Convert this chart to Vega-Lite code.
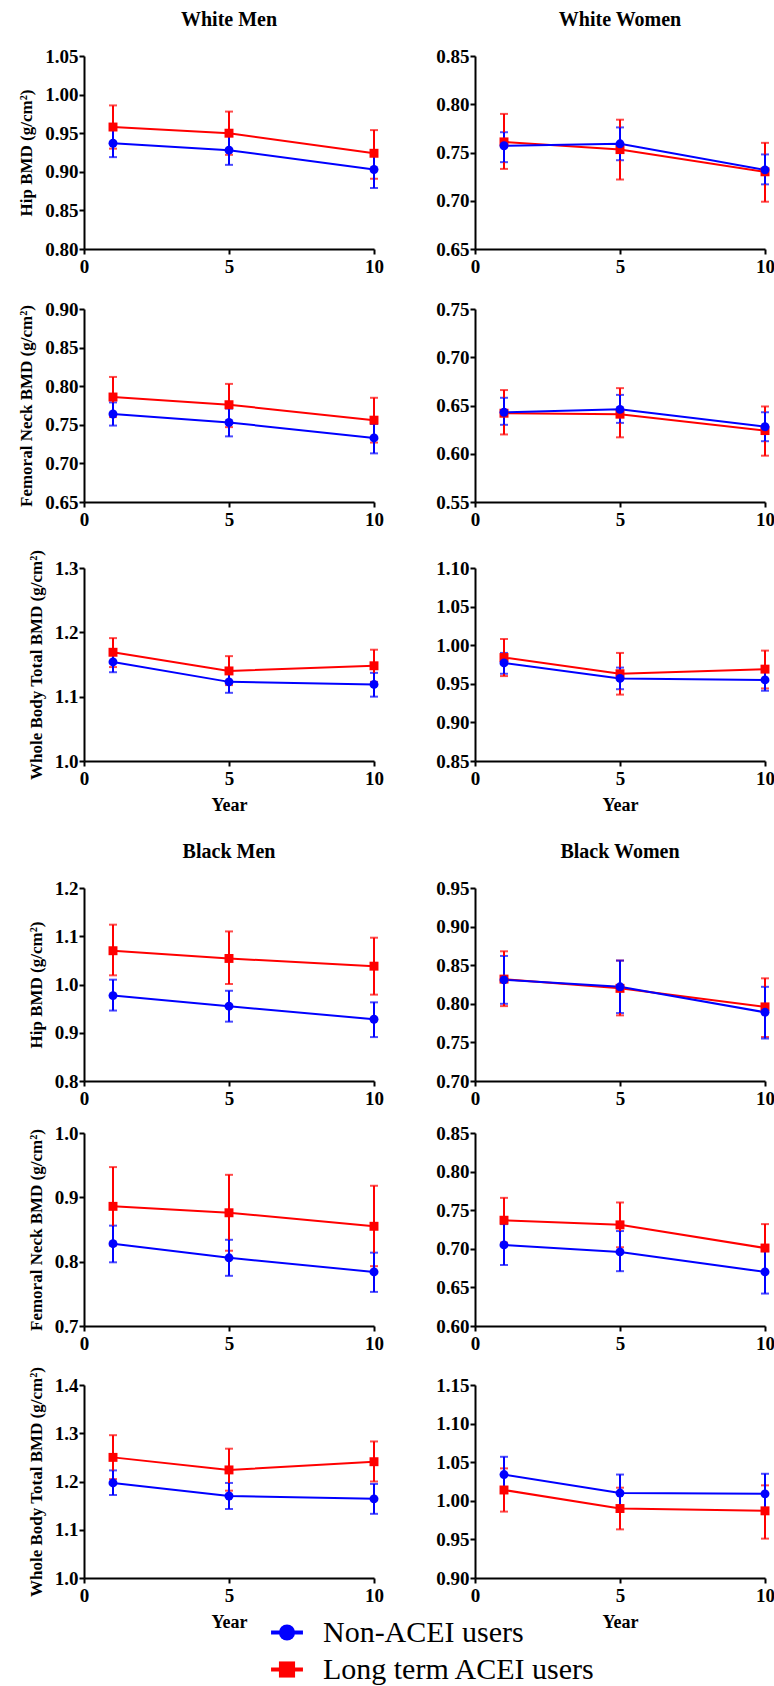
{
"$schema": "https://vega.github.io/schema/vega-lite/v6.json",
"padding": {"left": 17, "top": 10, "right": 0, "bottom": 0},
"background": "white",
"data": {"values": [
{"panel":"WM Hip","group":"Long term ACEI users","year":1,"mean":0.958,"lo":0.930,"hi":0.986},
{"panel":"WM Hip","group":"Long term ACEI users","year":5,"mean":0.950,"lo":0.922,"hi":0.978},
{"panel":"WM Hip","group":"Long term ACEI users","year":10,"mean":0.924,"lo":0.891,"hi":0.954},
{"panel":"WM Hip","group":"Non-ACEI users","year":1,"mean":0.937,"lo":0.919,"hi":0.956},
{"panel":"WM Hip","group":"Non-ACEI users","year":5,"mean":0.928,"lo":0.909,"hi":0.949},
{"panel":"WM Hip","group":"Non-ACEI users","year":10,"mean":0.903,"lo":0.879,"hi":0.926},
{"panel":"WW Hip","group":"Long term ACEI users","year":1,"mean":0.761,"lo":0.733,"hi":0.790},
{"panel":"WW Hip","group":"Long term ACEI users","year":5,"mean":0.753,"lo":0.722,"hi":0.784},
{"panel":"WW Hip","group":"Long term ACEI users","year":10,"mean":0.730,"lo":0.699,"hi":0.760},
{"panel":"WW Hip","group":"Non-ACEI users","year":1,"mean":0.757,"lo":0.740,"hi":0.771},
{"panel":"WW Hip","group":"Non-ACEI users","year":5,"mean":0.759,"lo":0.742,"hi":0.776},
{"panel":"WW Hip","group":"Non-ACEI users","year":10,"mean":0.732,"lo":0.717,"hi":0.748},
{"panel":"WM FN","group":"Long term ACEI users","year":1,"mean":0.786,"lo":0.760,"hi":0.812},
{"panel":"WM FN","group":"Long term ACEI users","year":5,"mean":0.776,"lo":0.747,"hi":0.803},
{"panel":"WM FN","group":"Long term ACEI users","year":10,"mean":0.756,"lo":0.727,"hi":0.785},
{"panel":"WM FN","group":"Non-ACEI users","year":1,"mean":0.764,"lo":0.749,"hi":0.779},
{"panel":"WM FN","group":"Non-ACEI users","year":5,"mean":0.753,"lo":0.735,"hi":0.771},
{"panel":"WM FN","group":"Non-ACEI users","year":10,"mean":0.733,"lo":0.713,"hi":0.751},
{"panel":"WW FN","group":"Long term ACEI users","year":1,"mean":0.642,"lo":0.620,"hi":0.666},
{"panel":"WW FN","group":"Long term ACEI users","year":5,"mean":0.641,"lo":0.617,"hi":0.668},
{"panel":"WW FN","group":"Long term ACEI users","year":10,"mean":0.624,"lo":0.598,"hi":0.649},
{"panel":"WW FN","group":"Non-ACEI users","year":1,"mean":0.643,"lo":0.630,"hi":0.658},
{"panel":"WW FN","group":"Non-ACEI users","year":5,"mean":0.646,"lo":0.632,"hi":0.661},
{"panel":"WW FN","group":"Non-ACEI users","year":10,"mean":0.628,"lo":0.613,"hi":0.643},
{"panel":"WM WB","group":"Long term ACEI users","year":1,"mean":1.169,"lo":1.146,"hi":1.191},
{"panel":"WM WB","group":"Long term ACEI users","year":5,"mean":1.140,"lo":1.118,"hi":1.163},
{"panel":"WM WB","group":"Long term ACEI users","year":10,"mean":1.148,"lo":1.123,"hi":1.173},
{"panel":"WM WB","group":"Non-ACEI users","year":1,"mean":1.154,"lo":1.138,"hi":1.167},
{"panel":"WM WB","group":"Non-ACEI users","year":5,"mean":1.123,"lo":1.106,"hi":1.137},
{"panel":"WM WB","group":"Non-ACEI users","year":10,"mean":1.119,"lo":1.100,"hi":1.137},
{"panel":"WW WB","group":"Long term ACEI users","year":1,"mean":0.984,"lo":0.960,"hi":1.008},
{"panel":"WW WB","group":"Long term ACEI users","year":5,"mean":0.963,"lo":0.936,"hi":0.990},
{"panel":"WW WB","group":"Long term ACEI users","year":10,"mean":0.969,"lo":0.944,"hi":0.993},
{"panel":"WW WB","group":"Non-ACEI users","year":1,"mean":0.977,"lo":0.963,"hi":0.990},
{"panel":"WW WB","group":"Non-ACEI users","year":5,"mean":0.957,"lo":0.943,"hi":0.971},
{"panel":"WW WB","group":"Non-ACEI users","year":10,"mean":0.955,"lo":0.941,"hi":0.968},
{"panel":"BM Hip","group":"Long term ACEI users","year":1,"mean":1.070,"lo":1.019,"hi":1.124},
{"panel":"BM Hip","group":"Long term ACEI users","year":5,"mean":1.054,"lo":1.001,"hi":1.110},
{"panel":"BM Hip","group":"Long term ACEI users","year":10,"mean":1.038,"lo":0.979,"hi":1.097},
{"panel":"BM Hip","group":"Non-ACEI users","year":1,"mean":0.977,"lo":0.946,"hi":1.010},
{"panel":"BM Hip","group":"Non-ACEI users","year":5,"mean":0.955,"lo":0.923,"hi":0.987},
{"panel":"BM Hip","group":"Non-ACEI users","year":10,"mean":0.928,"lo":0.891,"hi":0.963},
{"panel":"BW Hip","group":"Long term ACEI users","year":1,"mean":0.832,"lo":0.797,"hi":0.868},
{"panel":"BW Hip","group":"Long term ACEI users","year":5,"mean":0.820,"lo":0.785,"hi":0.856},
{"panel":"BW Hip","group":"Long term ACEI users","year":10,"mean":0.796,"lo":0.757,"hi":0.833},
{"panel":"BW Hip","group":"Non-ACEI users","year":1,"mean":0.831,"lo":0.800,"hi":0.862},
{"panel":"BW Hip","group":"Non-ACEI users","year":5,"mean":0.822,"lo":0.788,"hi":0.856},
{"panel":"BW Hip","group":"Non-ACEI users","year":10,"mean":0.789,"lo":0.755,"hi":0.822},
{"panel":"BM FN","group":"Long term ACEI users","year":1,"mean":0.886,"lo":0.825,"hi":0.947},
{"panel":"BM FN","group":"Long term ACEI users","year":5,"mean":0.876,"lo":0.817,"hi":0.935},
{"panel":"BM FN","group":"Long term ACEI users","year":10,"mean":0.855,"lo":0.793,"hi":0.918},
{"panel":"BM FN","group":"Non-ACEI users","year":1,"mean":0.828,"lo":0.799,"hi":0.856},
{"panel":"BM FN","group":"Non-ACEI users","year":5,"mean":0.806,"lo":0.778,"hi":0.834},
{"panel":"BM FN","group":"Non-ACEI users","year":10,"mean":0.784,"lo":0.753,"hi":0.814},
{"panel":"BW FN","group":"Long term ACEI users","year":1,"mean":0.737,"lo":0.708,"hi":0.766},
{"panel":"BW FN","group":"Long term ACEI users","year":5,"mean":0.731,"lo":0.702,"hi":0.760},
{"panel":"BW FN","group":"Long term ACEI users","year":10,"mean":0.701,"lo":0.670,"hi":0.732},
{"panel":"BW FN","group":"Non-ACEI users","year":1,"mean":0.705,"lo":0.679,"hi":0.732},
{"panel":"BW FN","group":"Non-ACEI users","year":5,"mean":0.696,"lo":0.671,"hi":0.723},
{"panel":"BW FN","group":"Non-ACEI users","year":10,"mean":0.670,"lo":0.642,"hi":0.697},
{"panel":"BM WB","group":"Long term ACEI users","year":1,"mean":1.250,"lo":1.205,"hi":1.296},
{"panel":"BM WB","group":"Long term ACEI users","year":5,"mean":1.224,"lo":1.181,"hi":1.268},
{"panel":"BM WB","group":"Long term ACEI users","year":10,"mean":1.241,"lo":1.200,"hi":1.283},
{"panel":"BM WB","group":"Non-ACEI users","year":1,"mean":1.197,"lo":1.172,"hi":1.223},
{"panel":"BM WB","group":"Non-ACEI users","year":5,"mean":1.170,"lo":1.143,"hi":1.197},
{"panel":"BM WB","group":"Non-ACEI users","year":10,"mean":1.164,"lo":1.133,"hi":1.195},
{"panel":"BW WB","group":"Long term ACEI users","year":1,"mean":1.014,"lo":0.986,"hi":1.042},
{"panel":"BW WB","group":"Long term ACEI users","year":5,"mean":0.990,"lo":0.963,"hi":1.017},
{"panel":"BW WB","group":"Long term ACEI users","year":10,"mean":0.987,"lo":0.951,"hi":1.020},
{"panel":"BW WB","group":"Non-ACEI users","year":1,"mean":1.034,"lo":1.012,"hi":1.057},
{"panel":"BW WB","group":"Non-ACEI users","year":5,"mean":1.010,"lo":0.987,"hi":1.034},
{"panel":"BW WB","group":"Non-ACEI users","year":10,"mean":1.009,"lo":0.983,"hi":1.035}
]},
"columns": 2,
"spacing": {"row": 0, "column": 101},
"bounds": "flush",
"concat": [
  {"width":290,"height":193,"title":"White Men","transform":[{"filter":{"field":"panel","equal":"WM Hip"}}],
   "encoding":{"x":{"field":"year","type":"quantitative","scale":{"domain":[0,10],"nice":false},"axis":{"values":[0,5,10],"title":null}},
    "color":{"field":"group","type":"nominal","scale":{"domain":["Non-ACEI users","Long term ACEI users"],"range":["#0000ff","#ff0000"]},"legend":null},
    "y":{"field":"mean","type":"quantitative","scale":{"domain":[0.8,1.05],"zero":false,"nice":false},"axis":{"values":[0.8,0.85,0.9,0.95,1.0,1.05],"format":".2f","title":"Hip BMD (g/cm²)"}}},
   "layer":[
    {"mark":{"type":"errorbar","ticks":true,"size":8,"thickness":2},"encoding":{"y":{"field":"lo","type":"quantitative","scale":{"domain":[0.8,1.05],"zero":false,"nice":false},"axis":{"values":[0.8,0.85,0.9,0.95,1.0,1.05],"format":".2f","title":"Hip BMD (g/cm²)"}},"y2":{"field":"hi"}}},
    {"mark":{"type":"line","strokeWidth":2},"encoding":{}},
    {"mark":{"type":"point","filled":true,"opacity":1,"size":80},"encoding":{"shape":{"field":"group","type":"nominal","scale":{"domain":["Non-ACEI users","Long term ACEI users"],"range":["circle","square"]},"legend":null}}}
   ]},
  {"width":290,"height":193,"title":"White Women","transform":[{"filter":{"field":"panel","equal":"WW Hip"}}],
   "encoding":{"x":{"field":"year","type":"quantitative","scale":{"domain":[0,10],"nice":false},"axis":{"values":[0,5,10],"title":null}},
    "color":{"field":"group","type":"nominal","scale":{"domain":["Non-ACEI users","Long term ACEI users"],"range":["#0000ff","#ff0000"]},"legend":null},
    "y":{"field":"mean","type":"quantitative","scale":{"domain":[0.65,0.85],"zero":false,"nice":false},"axis":{"values":[0.65,0.7,0.75,0.8,0.85],"format":".2f","title":null}}},
   "layer":[
    {"mark":{"type":"errorbar","ticks":true,"size":8,"thickness":2},"encoding":{"y":{"field":"lo","type":"quantitative","scale":{"domain":[0.65,0.85],"zero":false,"nice":false},"axis":{"values":[0.65,0.7,0.75,0.8,0.85],"format":".2f","title":null}},"y2":{"field":"hi"}}},
    {"mark":{"type":"line","strokeWidth":2},"encoding":{}},
    {"mark":{"type":"point","filled":true,"opacity":1,"size":80},"encoding":{"shape":{"field":"group","type":"nominal","scale":{"domain":["Non-ACEI users","Long term ACEI users"],"range":["circle","square"]},"legend":null}}}
   ]},
  {"width":290,"height":60,"data":{"values":[]},"mark":"point","encoding":{}},
  {"width":290,"height":60,"data":{"values":[]},"mark":"point","encoding":{}},
  {"width":290,"height":193,"transform":[{"filter":{"field":"panel","equal":"WM FN"}}],
   "encoding":{"x":{"field":"year","type":"quantitative","scale":{"domain":[0,10],"nice":false},"axis":{"values":[0,5,10],"title":null}},
    "color":{"field":"group","type":"nominal","scale":{"domain":["Non-ACEI users","Long term ACEI users"],"range":["#0000ff","#ff0000"]},"legend":null},
    "y":{"field":"mean","type":"quantitative","scale":{"domain":[0.65,0.9],"zero":false,"nice":false},"axis":{"values":[0.65,0.7,0.75,0.8,0.85,0.9],"format":".2f","title":"Femoral Neck BMD (g/cm²)"}}},
   "layer":[
    {"mark":{"type":"errorbar","ticks":true,"size":8,"thickness":2},"encoding":{"y":{"field":"lo","type":"quantitative","scale":{"domain":[0.65,0.9],"zero":false,"nice":false},"axis":{"values":[0.65,0.7,0.75,0.8,0.85,0.9],"format":".2f","title":"Femoral Neck BMD (g/cm²)"}},"y2":{"field":"hi"}}},
    {"mark":{"type":"line","strokeWidth":2},"encoding":{}},
    {"mark":{"type":"point","filled":true,"opacity":1,"size":80},"encoding":{"shape":{"field":"group","type":"nominal","scale":{"domain":["Non-ACEI users","Long term ACEI users"],"range":["circle","square"]},"legend":null}}}
   ]},
  {"width":290,"height":193,"transform":[{"filter":{"field":"panel","equal":"WW FN"}}],
   "encoding":{"x":{"field":"year","type":"quantitative","scale":{"domain":[0,10],"nice":false},"axis":{"values":[0,5,10],"title":null}},
    "color":{"field":"group","type":"nominal","scale":{"domain":["Non-ACEI users","Long term ACEI users"],"range":["#0000ff","#ff0000"]},"legend":null},
    "y":{"field":"mean","type":"quantitative","scale":{"domain":[0.55,0.75],"zero":false,"nice":false},"axis":{"values":[0.55,0.6,0.65,0.7,0.75],"format":".2f","title":null}}},
   "layer":[
    {"mark":{"type":"errorbar","ticks":true,"size":8,"thickness":2},"encoding":{"y":{"field":"lo","type":"quantitative","scale":{"domain":[0.55,0.75],"zero":false,"nice":false},"axis":{"values":[0.55,0.6,0.65,0.7,0.75],"format":".2f","title":null}},"y2":{"field":"hi"}}},
    {"mark":{"type":"line","strokeWidth":2},"encoding":{}},
    {"mark":{"type":"point","filled":true,"opacity":1,"size":80},"encoding":{"shape":{"field":"group","type":"nominal","scale":{"domain":["Non-ACEI users","Long term ACEI users"],"range":["circle","square"]},"legend":null}}}
   ]},
  {"width":290,"height":66,"data":{"values":[]},"mark":"point","encoding":{}},
  {"width":290,"height":66,"data":{"values":[]},"mark":"point","encoding":{}},
  {"width":290,"height":193,"transform":[{"filter":{"field":"panel","equal":"WM WB"}}],
   "encoding":{"x":{"field":"year","type":"quantitative","scale":{"domain":[0,10],"nice":false},"axis":{"values":[0,5,10],"title":"Year"}},
    "color":{"field":"group","type":"nominal","scale":{"domain":["Non-ACEI users","Long term ACEI users"],"range":["#0000ff","#ff0000"]},"legend":null},
    "y":{"field":"mean","type":"quantitative","scale":{"domain":[1.0,1.3],"zero":false,"nice":false},"axis":{"values":[1.0,1.1,1.2,1.3],"format":".1f","title":"Whole Body Total BMD (g/cm²)"}}},
   "layer":[
    {"mark":{"type":"errorbar","ticks":true,"size":8,"thickness":2},"encoding":{"y":{"field":"lo","type":"quantitative","scale":{"domain":[1.0,1.3],"zero":false,"nice":false},"axis":{"values":[1.0,1.1,1.2,1.3],"format":".1f","title":"Whole Body Total BMD (g/cm²)"}},"y2":{"field":"hi"}}},
    {"mark":{"type":"line","strokeWidth":2},"encoding":{}},
    {"mark":{"type":"point","filled":true,"opacity":1,"size":80},"encoding":{"shape":{"field":"group","type":"nominal","scale":{"domain":["Non-ACEI users","Long term ACEI users"],"range":["circle","square"]},"legend":null}}}
   ]},
  {"width":290,"height":193,"transform":[{"filter":{"field":"panel","equal":"WW WB"}}],
   "encoding":{"x":{"field":"year","type":"quantitative","scale":{"domain":[0,10],"nice":false},"axis":{"values":[0,5,10],"title":"Year"}},
    "color":{"field":"group","type":"nominal","scale":{"domain":["Non-ACEI users","Long term ACEI users"],"range":["#0000ff","#ff0000"]},"legend":null},
    "y":{"field":"mean","type":"quantitative","scale":{"domain":[0.85,1.1],"zero":false,"nice":false},"axis":{"values":[0.85,0.9,0.95,1.0,1.05,1.1],"format":".2f","title":null}}},
   "layer":[
    {"mark":{"type":"errorbar","ticks":true,"size":8,"thickness":2},"encoding":{"y":{"field":"lo","type":"quantitative","scale":{"domain":[0.85,1.1],"zero":false,"nice":false},"axis":{"values":[0.85,0.9,0.95,1.0,1.05,1.1],"format":".2f","title":null}},"y2":{"field":"hi"}}},
    {"mark":{"type":"line","strokeWidth":2},"encoding":{}},
    {"mark":{"type":"point","filled":true,"opacity":1,"size":80},"encoding":{"shape":{"field":"group","type":"nominal","scale":{"domain":["Non-ACEI users","Long term ACEI users"],"range":["circle","square"]},"legend":null}}}
   ]},
  {"width":290,"height":127,"data":{"values":[]},"mark":"point","encoding":{}},
  {"width":290,"height":127,"data":{"values":[]},"mark":"point","encoding":{}},
  {"width":290,"height":193,"title":"Black Men","transform":[{"filter":{"field":"panel","equal":"BM Hip"}}],
   "encoding":{"x":{"field":"year","type":"quantitative","scale":{"domain":[0,10],"nice":false},"axis":{"values":[0,5,10],"title":null}},
    "color":{"field":"group","type":"nominal","scale":{"domain":["Non-ACEI users","Long term ACEI users"],"range":["#0000ff","#ff0000"]},"legend":null},
    "y":{"field":"mean","type":"quantitative","scale":{"domain":[0.8,1.2],"zero":false,"nice":false},"axis":{"values":[0.8,0.9,1.0,1.1,1.2],"format":".1f","title":"Hip BMD (g/cm²)"}}},
   "layer":[
    {"mark":{"type":"errorbar","ticks":true,"size":8,"thickness":2},"encoding":{"y":{"field":"lo","type":"quantitative","scale":{"domain":[0.8,1.2],"zero":false,"nice":false},"axis":{"values":[0.8,0.9,1.0,1.1,1.2],"format":".1f","title":"Hip BMD (g/cm²)"}},"y2":{"field":"hi"}}},
    {"mark":{"type":"line","strokeWidth":2},"encoding":{}},
    {"mark":{"type":"point","filled":true,"opacity":1,"size":80},"encoding":{"shape":{"field":"group","type":"nominal","scale":{"domain":["Non-ACEI users","Long term ACEI users"],"range":["circle","square"]},"legend":null}}}
   ]},
  {"width":290,"height":193,"title":"Black Women","transform":[{"filter":{"field":"panel","equal":"BW Hip"}}],
   "encoding":{"x":{"field":"year","type":"quantitative","scale":{"domain":[0,10],"nice":false},"axis":{"values":[0,5,10],"title":null}},
    "color":{"field":"group","type":"nominal","scale":{"domain":["Non-ACEI users","Long term ACEI users"],"range":["#0000ff","#ff0000"]},"legend":null},
    "y":{"field":"mean","type":"quantitative","scale":{"domain":[0.7,0.95],"zero":false,"nice":false},"axis":{"values":[0.7,0.75,0.8,0.85,0.9,0.95],"format":".2f","title":null}}},
   "layer":[
    {"mark":{"type":"errorbar","ticks":true,"size":8,"thickness":2},"encoding":{"y":{"field":"lo","type":"quantitative","scale":{"domain":[0.7,0.95],"zero":false,"nice":false},"axis":{"values":[0.7,0.75,0.8,0.85,0.9,0.95],"format":".2f","title":null}},"y2":{"field":"hi"}}},
    {"mark":{"type":"line","strokeWidth":2},"encoding":{}},
    {"mark":{"type":"point","filled":true,"opacity":1,"size":80},"encoding":{"shape":{"field":"group","type":"nominal","scale":{"domain":["Non-ACEI users","Long term ACEI users"],"range":["circle","square"]},"legend":null}}}
   ]},
  {"width":290,"height":52,"data":{"values":[]},"mark":"point","encoding":{}},
  {"width":290,"height":52,"data":{"values":[]},"mark":"point","encoding":{}},
  {"width":290,"height":193,"transform":[{"filter":{"field":"panel","equal":"BM FN"}}],
   "encoding":{"x":{"field":"year","type":"quantitative","scale":{"domain":[0,10],"nice":false},"axis":{"values":[0,5,10],"title":null}},
    "color":{"field":"group","type":"nominal","scale":{"domain":["Non-ACEI users","Long term ACEI users"],"range":["#0000ff","#ff0000"]},"legend":null},
    "y":{"field":"mean","type":"quantitative","scale":{"domain":[0.7,1.0],"zero":false,"nice":false},"axis":{"values":[0.7,0.8,0.9,1.0],"format":".1f","title":"Femoral Neck BMD (g/cm²)"}}},
   "layer":[
    {"mark":{"type":"errorbar","ticks":true,"size":8,"thickness":2},"encoding":{"y":{"field":"lo","type":"quantitative","scale":{"domain":[0.7,1.0],"zero":false,"nice":false},"axis":{"values":[0.7,0.8,0.9,1.0],"format":".1f","title":"Femoral Neck BMD (g/cm²)"}},"y2":{"field":"hi"}}},
    {"mark":{"type":"line","strokeWidth":2},"encoding":{}},
    {"mark":{"type":"point","filled":true,"opacity":1,"size":80},"encoding":{"shape":{"field":"group","type":"nominal","scale":{"domain":["Non-ACEI users","Long term ACEI users"],"range":["circle","square"]},"legend":null}}}
   ]},
  {"width":290,"height":193,"transform":[{"filter":{"field":"panel","equal":"BW FN"}}],
   "encoding":{"x":{"field":"year","type":"quantitative","scale":{"domain":[0,10],"nice":false},"axis":{"values":[0,5,10],"title":null}},
    "color":{"field":"group","type":"nominal","scale":{"domain":["Non-ACEI users","Long term ACEI users"],"range":["#0000ff","#ff0000"]},"legend":null},
    "y":{"field":"mean","type":"quantitative","scale":{"domain":[0.6,0.85],"zero":false,"nice":false},"axis":{"values":[0.6,0.65,0.7,0.75,0.8,0.85],"format":".2f","title":null}}},
   "layer":[
    {"mark":{"type":"errorbar","ticks":true,"size":8,"thickness":2},"encoding":{"y":{"field":"lo","type":"quantitative","scale":{"domain":[0.6,0.85],"zero":false,"nice":false},"axis":{"values":[0.6,0.65,0.7,0.75,0.8,0.85],"format":".2f","title":null}},"y2":{"field":"hi"}}},
    {"mark":{"type":"line","strokeWidth":2},"encoding":{}},
    {"mark":{"type":"point","filled":true,"opacity":1,"size":80},"encoding":{"shape":{"field":"group","type":"nominal","scale":{"domain":["Non-ACEI users","Long term ACEI users"],"range":["circle","square"]},"legend":null}}}
   ]},
  {"width":290,"height":59,"data":{"values":[]},"mark":"point","encoding":{}},
  {"width":290,"height":59,"data":{"values":[]},"mark":"point","encoding":{}},
  {"width":290,"height":193,"transform":[{"filter":{"field":"panel","equal":"BM WB"}}],
   "encoding":{"x":{"field":"year","type":"quantitative","scale":{"domain":[0,10],"nice":false},"axis":{"values":[0,5,10],"title":"Year"}},
    "color":{"field":"group","type":"nominal","scale":{"domain":["Non-ACEI users","Long term ACEI users"],"range":["#0000ff","#ff0000"]},"legend":null},
    "y":{"field":"mean","type":"quantitative","scale":{"domain":[1.0,1.4],"zero":false,"nice":false},"axis":{"values":[1.0,1.1,1.2,1.3,1.4],"format":".1f","title":"Whole Body Total BMD (g/cm²)"}}},
   "layer":[
    {"mark":{"type":"errorbar","ticks":true,"size":8,"thickness":2},"encoding":{"y":{"field":"lo","type":"quantitative","scale":{"domain":[1.0,1.4],"zero":false,"nice":false},"axis":{"values":[1.0,1.1,1.2,1.3,1.4],"format":".1f","title":"Whole Body Total BMD (g/cm²)"}},"y2":{"field":"hi"}}},
    {"mark":{"type":"line","strokeWidth":2},"encoding":{}},
    {"mark":{"type":"point","filled":true,"opacity":1,"size":80},"encoding":{"shape":{"field":"group","type":"nominal","scale":{"domain":["Non-ACEI users","Long term ACEI users"],"range":["circle","square"]},"legend":null}}}
   ]},
  {"width":290,"height":193,"transform":[{"filter":{"field":"panel","equal":"BW WB"}}],
   "encoding":{"x":{"field":"year","type":"quantitative","scale":{"domain":[0,10],"nice":false},"axis":{"values":[0,5,10],"title":"Year"}},
    "color":{"field":"group","type":"nominal","scale":{"domain":["Non-ACEI users","Long term ACEI users"],"range":["#0000ff","#ff0000"]},"legend":null},
    "y":{"field":"mean","type":"quantitative","scale":{"domain":[0.9,1.15],"zero":false,"nice":false},"axis":{"values":[0.9,0.95,1.0,1.05,1.1,1.15],"format":".2f","title":null}}},
   "layer":[
    {"mark":{"type":"errorbar","ticks":true,"size":8,"thickness":2},"encoding":{"y":{"field":"lo","type":"quantitative","scale":{"domain":[0.9,1.15],"zero":false,"nice":false},"axis":{"values":[0.9,0.95,1.0,1.05,1.1,1.15],"format":".2f","title":null}},"y2":{"field":"hi"}}},
    {"mark":{"type":"line","strokeWidth":2},"encoding":{}},
    {"mark":{"type":"point","filled":true,"opacity":1,"size":80},"encoding":{"shape":{"field":"group","type":"nominal","scale":{"domain":["Non-ACEI users","Long term ACEI users"],"range":["circle","square"]},"legend":null}}}
   ]},
  {"width":290,"height":36,"data":{"values":[]},"mark":"point","encoding":{}},
  {"width":290,"height":36,"data":{"values":[]},"mark":"point","encoding":{}},
  {"width": 290, "height": 74,
   "data": {"values": [{"group":"Non-ACEI users"},{"group":"Long term ACEI users"}]},
   "encoding": {
    "y": {"field":"group","type":"nominal","scale":{"type":"point","domain":["Non-ACEI users","Long term ACEI users"],"padding":0.5},"axis":null},
    "color": {"field":"group","type":"nominal","scale":{"domain":["Non-ACEI users","Long term ACEI users"],"range":["#0000ff","#ff0000"]},"legend":null}
   },
   "layer": [
    {"mark":{"type":"rule","strokeWidth":4},"encoding":{"x":{"datum":6.45,"type":"quantitative","scale":{"domain":[0,10],"nice":false},"axis":null},"x2":{"datum":7.55}}},
    {"mark":{"type":"point","filled":true,"opacity":1,"size":260},"encoding":{"x":{"datum":7.0,"type":"quantitative","scale":{"domain":[0,10],"nice":false},"axis":null},"shape":{"field":"group","type":"nominal","scale":{"domain":["Non-ACEI users","Long term ACEI users"],"range":["circle","square"]},"legend":null}}},
    {"mark":{"type":"text","align":"left","baseline":"middle","fontSize":30,"font":"Liberation Serif"},"encoding":{"x":{"datum":8.24,"type":"quantitative","scale":{"domain":[0,10],"nice":false},"axis":null},"text":{"field":"group"},"color":{"value":"black"}}}
   ]}
],
"config": {
 "view": {"stroke": null},
 "font": "Liberation Serif",
 "axis": {"domainColor":"black","domainWidth":2,"tickColor":"black","tickWidth":2,"tickSize":5,"labelFont":"Liberation Serif","labelFontWeight":"bold","labelFontSize":19,"labelColor":"black","titleFont":"Liberation Serif","titleFontWeight":"bold","titleFontSize":17,"titleColor":"black","grid":false,"labelFlush":false,"labelOverlap":false},
 "axisX": {"labelPadding": 3, "titleFontSize": 18, "titlePadding": 8},
 "axisY": {"labelPadding": 1, "titlePadding": 9},
 "title": {"font":"Liberation Serif","fontSize":20,"fontWeight":"bold","color":"black","offset":17,"frame":"group","baseline":"alphabetic"}
}
}
